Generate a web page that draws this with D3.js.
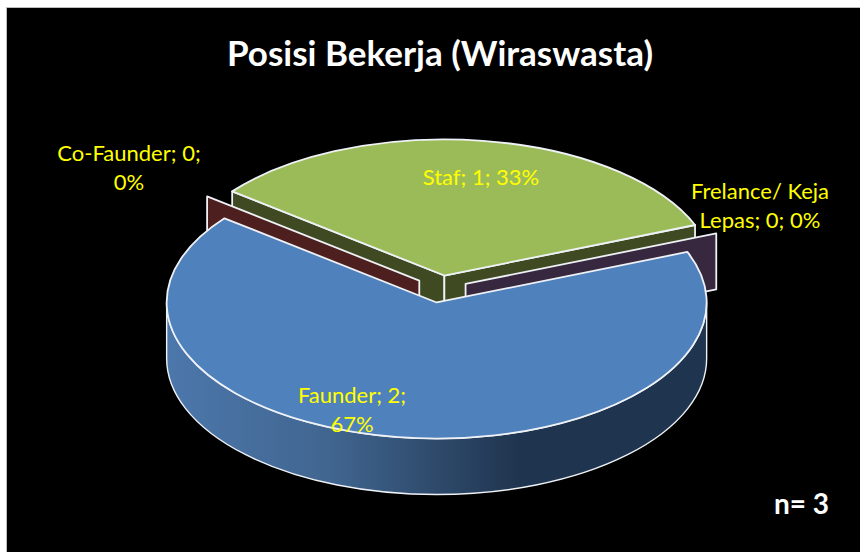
<!DOCTYPE html>
<html>
<head>
<meta charset="utf-8">
<script src="https://cdn.jsdelivr.net/npm/d3@7"></script>
<style>
  html, body { margin: 0; padding: 0; background: #fff; }
  svg { display: block; }
  text { font-family: Lato, "Open Sans", sans-serif; }
</style>
</head>
<body>
<svg id="chart" width="860" height="552"></svg>
<script>
// data
var categories = ["Faunder", "Co-Faunder", "Staf", "Frelance/ Keja Lepas"];
var values = [2, 0, 1, 0];
var topColors = ["#4f81bd", "#c0504d", "#9bbb59", "#8064a2"];
var wallColors = ["#1f344e", "#4d1f1f", "#3f4a22", "#38283f"];
var firstLineWords = [2, 2, 3, 2];

var titleText = "Posisi Bekerja (Wiraswasta)";
var noteText = "n= 3";

// layout
var cx = 440.5, cy = 289, radius = 270, tilt = 0.504, depth = 56, explode = 27;
var outline = "#eef1f5";
var labelAt = [[352, 403], [129, 161], [481, 185], [760, 199]];

var svg = d3.select("#chart");

svg.append("rect").attr("x", 6.5).attr("y", 7.5).attr("width", 870).attr("height", 560)
    .attr("fill", "#000").attr("stroke", "#bdbdbd").attr("stroke-width", 1);

var defs = svg.append("defs");
var grad = defs.append("linearGradient").attr("id", "blueSide")
    .attr("gradientUnits", "userSpaceOnUse")
    .attr("x1", cx - radius).attr("x2", cx + radius).attr("y1", 0).attr("y2", 0);
grad.append("stop").attr("offset", "0").attr("stop-color", "#4c77ab");
grad.append("stop").attr("offset", "0.3").attr("stop-color", "#40658f");
grad.append("stop").attr("offset", "0.65").attr("stop-color", "#1f344e");
grad.append("stop").attr("offset", "1").attr("stop-color", "#1f344e");

var pie = d3.pie().sort(null)
    .startAngle(68.2 * Math.PI / 180)
    .endAngle((68.2 + 360) * Math.PI / 180)
    .value(function(d) { return d; });
var slices = pie(values);
var total = d3.sum(values);

var arc = d3.arc().innerRadius(0).outerRadius(radius);

// slice centre after it is pulled out of the pie
function centre(d) {
    var mid = (d.startAngle + d.endAngle) / 2;
    return [cx + explode * Math.sin(mid), cy - explode * Math.cos(mid) * tilt];
}
function rim(d, angle) {
    var c = centre(d);
    return [c[0] + radius * Math.sin(angle), c[1] - radius * Math.cos(angle) * tilt];
}

// flat wall from the centre of a slice out to its rim at one angle
function radialWall(d, angle) {
    var c = centre(d), p = rim(d, angle);
    return "M" + c + "L" + p + "L" + [p[0], p[1] + depth] + "L" + [c[0], c[1] + depth] + "Z";
}

var g = svg.append("g");

function drawWall(d, angle, i) {
    g.append("path")
        .attr("d", radialWall(d, angle))
        .attr("fill", wallColors[i])
        .attr("stroke", outline)
        .attr("stroke-width", 1.8)
        .attr("stroke-linejoin", "round");
}

// back to front: staf, the two empty slices, faunder
drawWall(slices[2], slices[2].startAngle, 2);
drawWall(slices[2], slices[2].endAngle, 2);

g.append("path")
    .attr("transform", "translate(" + centre(slices[2]) + ") scale(1," + tilt + ")")
    .attr("d", arc(slices[2]))
    .attr("fill", topColors[2])
    .attr("stroke", outline)
    .attr("stroke-width", 1.8)
    .attr("vector-effect", "non-scaling-stroke")
    .attr("stroke-linejoin", "round");

drawWall(slices[1], slices[1].startAngle, 1);
drawWall(slices[3], slices[3].startAngle, 3);

// outer side of the big slice
var left = rim(slices[0], 1.5 * Math.PI), right = rim(slices[0], 0.5 * Math.PI);
g.append("path")
    .attr("d", "M" + left + "A" + radius + " " + (radius * tilt) + " 0 0 0 " + right +
        "L" + [right[0], right[1] + depth] +
        "A" + radius + " " + (radius * tilt) + " 0 0 1 " + [left[0], left[1] + depth] + "Z")
    .attr("fill", "url(#blueSide)")
    .attr("stroke", outline)
    .attr("stroke-width", 1.4);

g.append("path")
    .attr("transform", "translate(" + centre(slices[0]) + ") scale(1," + tilt + ")")
    .attr("d", arc(slices[0]))
    .attr("fill", topColors[0])
    .attr("stroke", outline)
    .attr("stroke-width", 1.8)
    .attr("vector-effect", "non-scaling-stroke")
    .attr("stroke-linejoin", "round");

// labels: name; value; percent
var pct = d3.format(".0%");
categories.forEach(function(name, i) {
    var words = (name + "; " + values[i] + "; " + pct(values[i] / total)).split(" ");
    var n = firstLineWords[i];
    var lines = [words.slice(0, n).join(" "), words.slice(n).join(" ")].filter(Boolean);
    svg.append("text")
        .attr("text-anchor", "middle")
        .attr("font-size", 22)
        .attr("fill", "#ffff00")
        .selectAll("tspan")
        .data(lines)
        .join("tspan")
        .attr("x", labelAt[i][0])
        .attr("y", function(d, k) { return labelAt[i][1] + k * 29; })
        .text(function(d) { return d; });
});

svg.append("text").attr("x", 440).attr("y", 66).attr("text-anchor", "middle")
    .attr("font-size", 35).attr("font-weight", 700).attr("fill", "#fff").text(titleText);

svg.append("text").attr("x", 801.5).attr("y", 514).attr("text-anchor", "middle")
    .attr("font-size", 28).attr("font-weight", 700).attr("fill", "#fff").text(noteText);
</script>
</body>
</html>
